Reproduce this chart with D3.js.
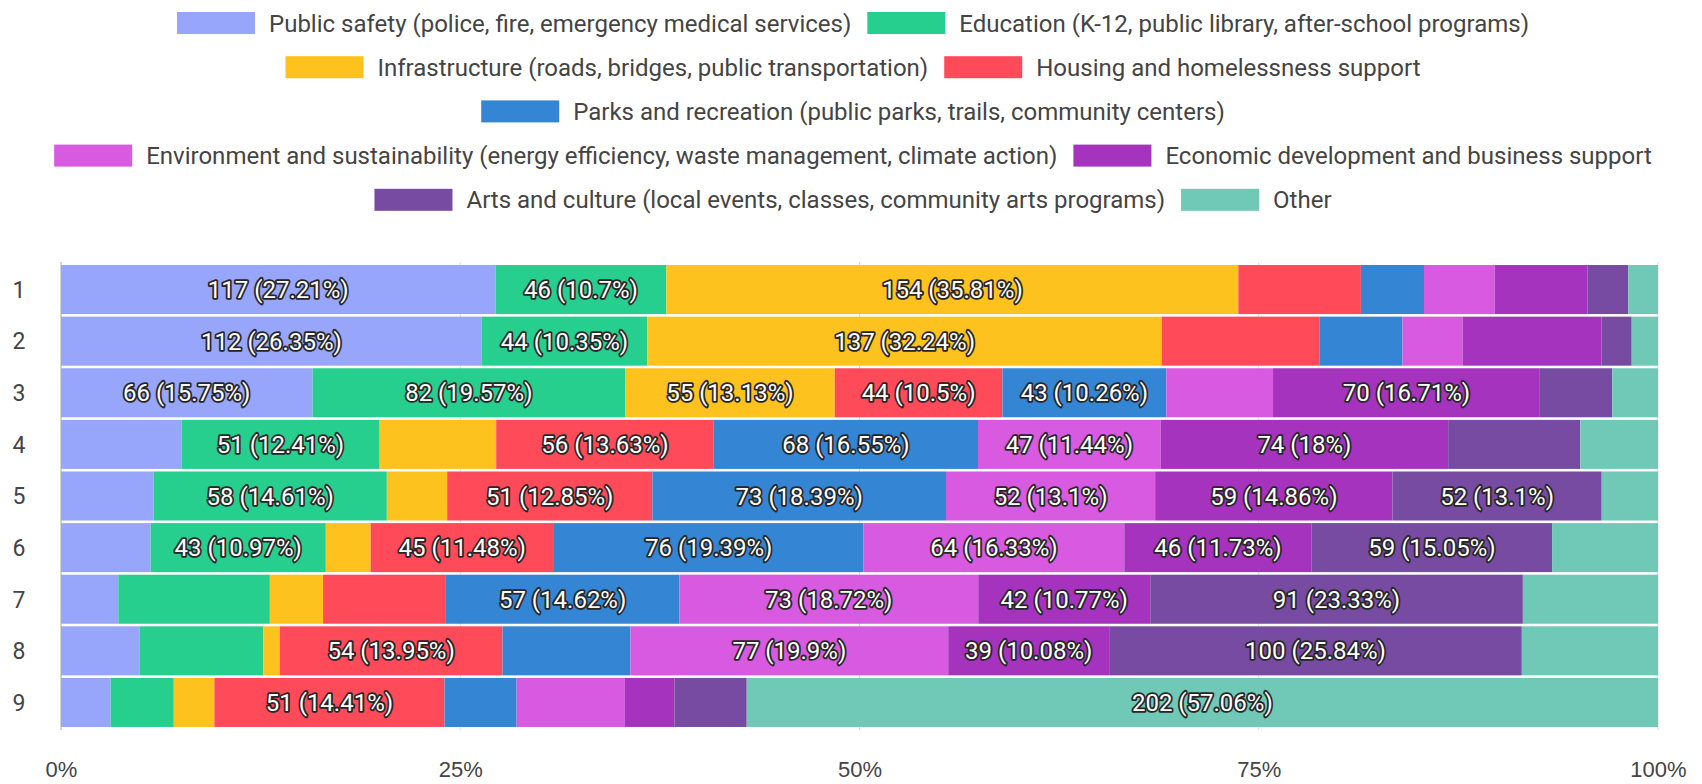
<!DOCTYPE html>
<html>
<head>
<meta charset="utf-8">
<script src="https://cdn.jsdelivr.net/npm/d3@7"></script>
<style>
  body { margin: 0; background: #fff; }
  svg { display: block; font-family: Roboto, "Liberation Sans", Arial, sans-serif; }
</style>
</head>
<body>
<svg id="chart" width="1702" height="784"></svg>
<script>
// --- data -------------------------------------------------------------
var rowLabels = ["1", "2", "3", "4", "5", "6", "7", "8", "9"];

var categories = [
    "Public safety (police, fire, emergency medical services)",
    "Education (K-12, public library, after-school programs)",
    "Infrastructure (roads, bridges, public transportation)",
    "Housing and homelessness support",
    "Parks and recreation (public parks, trails, community centers)",
    "Environment and sustainability (energy efficiency, waste management, climate action)",
    "Economic development and business support",
    "Arts and culture (local events, classes, community arts programs)",
    "Other"
];

var colours = ["#97a5fb", "#27cf8f", "#fdc21d", "#ff4a59", "#3485d3",
               "#d75ae0", "#a533be", "#764ba1", "#70c8b6"];

var publicSafety   = [117, 112, 66, 31, 23, 22, 14, 19, 11];
var education      = [46, 44, 82, 51, 58, 43, 37, 30, 14];
var infrastructure = [154, 137, 55, 30, 15, 11, 13, 4, 9];
var housing        = [33, 42, 44, 56, 51, 45, 30, 54, 51];
var parks          = [17, 22, 43, 68, 73, 76, 57, 31, 16];
var environment    = [19, 16, 28, 47, 52, 64, 73, 77, 24];
var economic       = [25, 37, 70, 74, 59, 46, 42, 39, 11];
var arts           = [11, 8, 19, 34, 52, 59, 91, 100, 16];
var other          = [8, 7, 12, 20, 14, 26, 33, 33, 202];

var xTicks = [0, 0.25, 0.5, 0.75, 1];

// --- table for the stack ---------------------------------------------
var seriesValues = [publicSafety, education, infrastructure, housing, parks,
                    environment, economic, arts, other];

var table = rowLabels.map(function(r, i) {
    var o = { row: r, total: 0 };
    categories.forEach(function(c, j) {
        o[c] = seriesValues[j][i];
        o.total += seriesValues[j][i];
    });
    return o;
});

var stacked = d3.stack()
    .keys(categories)
    .offset(d3.stackOffsetExpand)(table);

// --- layout -------------------------------------------------------------
var svg = d3.select("#chart");
var plot = { left: 61, right: 1658, top: 264, bottom: 728 };

var x = d3.scaleLinear().domain([0, 1]).range([plot.left, plot.right]);
var y = d3.scaleBand().domain(rowLabels)
    .range([plot.top, plot.bottom])
    .paddingInner(0.05)
    .paddingOuter(0.02);
var colour = d3.scaleOrdinal().domain(categories).range(colours);

// gridlines
svg.append("g").selectAll("line")
    .data(xTicks)
  .enter()
    .append("line")
    .attr("x1", function(d) { return x(d); })
    .attr("x2", function(d) { return x(d); })
    .attr("y1", plot.top - 2)
    .attr("y2", plot.bottom + 2)
    .attr("stroke", function(d) { return d === 0 ? "#aaa" : "#d9d9d9"; })
    .attr("stroke-width", 1);

// bars
var layers = svg.append("g").selectAll(".layer")
    .data(stacked)
  .enter()
    .append("g")
    .attr("class", "layer")
    .attr("fill", function(d) { return colour(d.key); });

layers.selectAll("rect")
    .data(function(d) { return d; })
  .enter()
    .append("rect")
    .attr("x", function(d) { return x(d[0]); })
    .attr("y", function(d) { return y(d.data.row); })
    .attr("width", function(d) { return x(d[1]) - x(d[0]); })
    .attr("height", y.bandwidth());

// value labels (only segments of 10% or more)
var fmtPct = function(v) { return String(+(v * 100).toFixed(2)); };

layers.selectAll("text")
    .data(function(layer) {
        return layer.map(function(d) { return { d: d, key: layer.key }; })
            .filter(function(o) { return o.d[1] - o.d[0] >= 0.1; });
    })
  .enter()
    .append("text")
    .attr("x", function(o) { return (x(o.d[0]) + x(o.d[1])) / 2; })
    .attr("y", function(o) { return y(o.d.data.row) + y.bandwidth() / 2; })
    .attr("dy", "0.36em")
    .attr("text-anchor", "middle")
    .attr("font-size", 24)
    .attr("fill", "#fff")
    .attr("stroke", "#262626")
    .attr("stroke-width", 3.6)
    .attr("stroke-linejoin", "round")
    .attr("paint-order", "stroke")
    .text(function(o) {
        var v = o.d.data[o.key];
        return v + " (" + fmtPct(v / o.d.data.total) + "%)";
    });

// y labels
svg.append("g").selectAll("text")
    .data(rowLabels)
  .enter()
    .append("text")
    .attr("x", 19)
    .attr("y", function(d) { return y(d) + y.bandwidth() / 2; })
    .attr("dy", "0.36em")
    .attr("text-anchor", "middle")
    .attr("font-size", 23)
    .attr("fill", "#444")
    .text(function(d) { return d; });

// x axis
var xAxis = svg.append("g")
    .attr("transform", "translate(0," + (plot.bottom + 30) + ")")
    .call(d3.axisBottom(x).tickValues(xTicks).tickFormat(d3.format(".0%")).tickSize(0));
xAxis.select(".domain").remove();
xAxis.selectAll("text")
    .attr("font-size", 22)
    .attr("font-family", null)
    .attr("fill", "#444");

// legend (wrapped, centred rows)
var legend = { maxWidth: 1632, centre: 853, top: 23, rowStep: 44.2,
               swW: 78, swH: 22, textGap: 14, itemGap: 16 };

var lg = svg.append("g");
var items = lg.selectAll(".item")
    .data(categories)
  .enter()
    .append("g")
    .attr("class", "item");

items.append("rect")
    .attr("width", legend.swW)
    .attr("height", legend.swH)
    .attr("y", -legend.swH / 2)
    .attr("fill", function(d) { return colour(d); });

items.append("text")
    .attr("x", legend.swW + legend.textGap)
    .attr("dy", "0.36em")
    .attr("font-size", 24)
    .attr("fill", "#444")
    .text(function(d) { return d; });

var legendRows = [[]];
var rowWidth = 0;
items.each(function() {
    var w = legend.swW + legend.textGap + d3.select(this).select("text").node().getComputedTextLength();
    var cur = legendRows[legendRows.length - 1];
    var next = cur.length ? rowWidth + legend.itemGap + w : w;
    if (cur.length && next > legend.maxWidth) {
        legendRows.push([{ node: this, w: w }]);
        rowWidth = w;
    } else {
        cur.push({ node: this, w: w });
        rowWidth = next;
    }
});

legendRows.forEach(function(row, ri) {
    var total = d3.sum(row, function(o) { return o.w; }) + legend.itemGap * (row.length - 1);
    var pos = legend.centre - total / 2;
    row.forEach(function(o) {
        d3.select(o.node).attr("transform",
            "translate(" + pos + "," + (legend.top + ri * legend.rowStep) + ")");
        pos += o.w + legend.itemGap;
    });
});
</script>
</body>
</html>
